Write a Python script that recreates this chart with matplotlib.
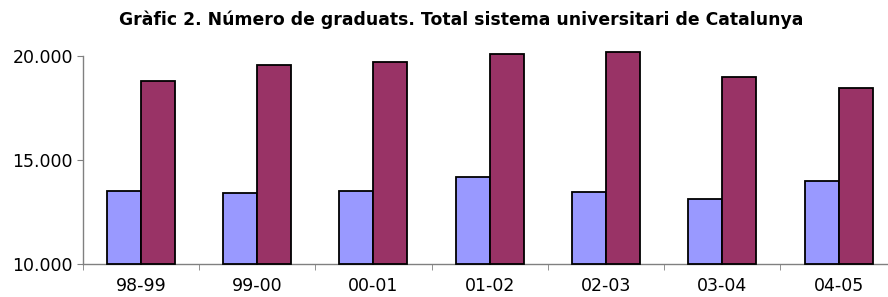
import numpy as np
import matplotlib.pyplot as plt

plt.rcParams['font.family'] = 'DejaVu Sans'

cursos = ['98-99', '99-00', '00-01', '01-02', '02-03', '03-04', '04-05']
serie_a = [13520, 13410, 13540, 14180, 13490, 13130, 13990]
serie_b = [18780, 19570, 19730, 20100, 20190, 18970, 18460]

base = 10000

fig = plt.figure(figsize=(8.88, 2.97), dpi=100)
ax = fig.add_axes([82.7 / 888, 1 - 264.3 / 297, 814 / 888, (264.3 - 56) / 297])

x = np.arange(len(cursos))
w = 0.292
ax.bar(x - w / 2, np.array(serie_a) - base, bottom=base, width=w, color='#9999FF',
       edgecolor='black', linewidth=1.3, clip_on=False, zorder=3)
ax.bar(x + w / 2, np.array(serie_b) - base, bottom=base, width=w, color='#993366',
       edgecolor='black', linewidth=1.3, clip_on=False, zorder=3)

ax.set_xlim(-0.5, len(cursos) - 0.5)
ax.set_ylim(10000, 20000)
ax.set_yticks([10000, 15000, 20000])
ax.set_yticklabels(['10.000', '15.000', '20.000'])
ax.set_xticks(x)
ax.set_xticklabels(cursos)
ax.set_xticks(np.arange(-0.5, len(cursos)), minor=True)
ax.tick_params(axis='x', which='major', length=0, labelsize=12.5, pad=9)
ax.tick_params(axis='x', which='minor', length=4, color='#808080', direction='out')
ax.tick_params(axis='y', length=4, color='#808080', labelsize=12.5, pad=3)

for s in ['top', 'right']:
    ax.spines[s].set_visible(False)
for s in ['left', 'bottom']:
    ax.spines[s].set_color('#808080')
    ax.spines[s].set_linewidth(1.0)

fig.text(461 / 888, 1 - 20 / 297, 'Gràfic 2. Número de graduats. Total sistema universitari de Catalunya',
         ha='center', va='center', fontsize=12.4, fontweight='bold')

fig.savefig('out.png', dpi=100)
